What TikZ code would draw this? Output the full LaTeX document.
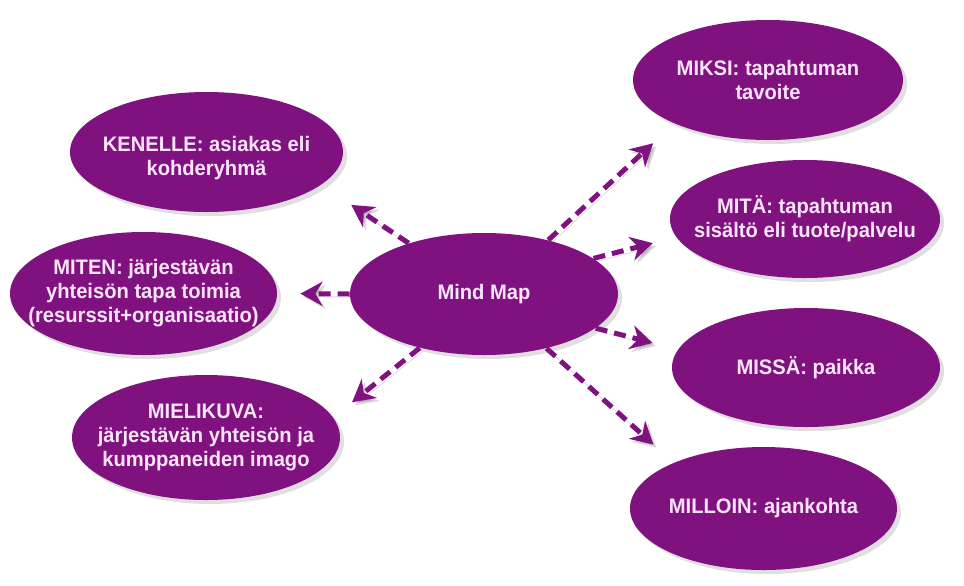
\documentclass[tikz,border=0pt]{standalone}
\usepackage{fontspec}
\setmainfont{Liberation Sans}[FakeStretch=0.96]
\usetikzlibrary{arrows.meta, positioning, shapes.geometric, shadows}
\definecolor{mmpurple}{RGB}{128,18,128}
\definecolor{mmtext}{RGB}{250,228,250}

\begin{document}
\begin{tikzpicture}[
		x=0.5pt, y=-0.5pt,
		font=\fontsize{10.5}{12}\selectfont\bfseries,
		bubble/.style={
			ellipse,
			fill=mmpurple,
			minimum width=134pt,
			minimum height=61pt,
			inner sep=0pt,
			drop shadow={shadow xshift=2pt, shadow yshift=-2pt, opacity=0.25}
		},
		bubbletext/.style={
			text=mmtext,
			align=center,
			inner sep=0pt
		},
		arrow/.style={
			-{Stealth[length=11pt, width=12pt, inset=3.5pt]},
			draw=mmpurple,
			line width=2.5pt,
			dash pattern=on 6pt off 3.5pt,
			preaction={draw=black, opacity=0.15, transform canvas={xshift=1.5pt, yshift=-1.5pt}}
		}
		]
		
		\fill[white] (0,0) rectangle (964,585);
		\useasboundingbox (0,0) rectangle (964,585);
		
		% Keskus
		\node[bubble] (mind) at (484,294)
			[label={[bubbletext]center:Mind Map}] {};
		
		% Vasen puoli
		\node[bubble, minimum width=136.5pt, minimum height=60pt] (kenelle) at (206.5,152)
			[label={[bubbletext, yshift=-3pt]center:{KENELLE: asiakas eli\\kohderyhmä}}] {};
		\node[bubble, minimum width=133.5pt, minimum height=61.5pt] (miten) at (143.5,293.5)
			[label={[bubbletext]center:{MITEN: järjestävän\\yhteisön tapa toimia\\(resurssit+organisaatio)}}] {};
		\node[bubble, minimum height=62.5pt] (mielikuva) at (206,437.5)
			[label={[bubbletext]center:{MIELIKUVA:\\järjestävän yhteisön ja\\kumppaneiden imago}}] {};
		
		% Oikea puoli
		\node[bubble, minimum width=135pt, minimum height=60pt] (miksi) at (768,80)
			[label={[bubbletext]center:{MIKSI: tapahtuman\\tavoite}}] {};
		\node[bubble, minimum width=135pt, minimum height=59pt] (mita) at (805,219)
			[label={[bubbletext]center:{MITÄ: tapahtuman\\sisältö eli tuote/palvelu}}] {};
		\node[bubble, minimum height=59.5pt] (missa) at (806,367.5)
			[label={[bubbletext]center:MISSÄ: paikka}] {};
		\node[bubble, minimum width=133.5pt, minimum height=61.5pt] (milloin) at (763.5,508.5)
			[label={[bubbletext]center:MILLOIN: ajankohta}] {};
		
		% Nuolet
		\draw[arrow, shorten >=18pt] (mind.146) -- (kenelle.-16);
		\draw[arrow, shorten >=11.5pt] (mind.180) -- (miten.0);
		\draw[arrow, shorten >=12pt] (mind.220) -- (mielikuva.9);
		\draw[arrow, shorten >=14.5pt] (mind.40) -- (miksi.205);
		\draw[arrow, shorten >=12pt] (mind.18) -- (mita.188);
		\draw[arrow, shorten >=13pt] (mind.-17) -- (missa.172);
		\draw[arrow, shorten >=13.5pt] (mind.-41) -- (milloin.153);
		
	\end{tikzpicture}
\end{document}
